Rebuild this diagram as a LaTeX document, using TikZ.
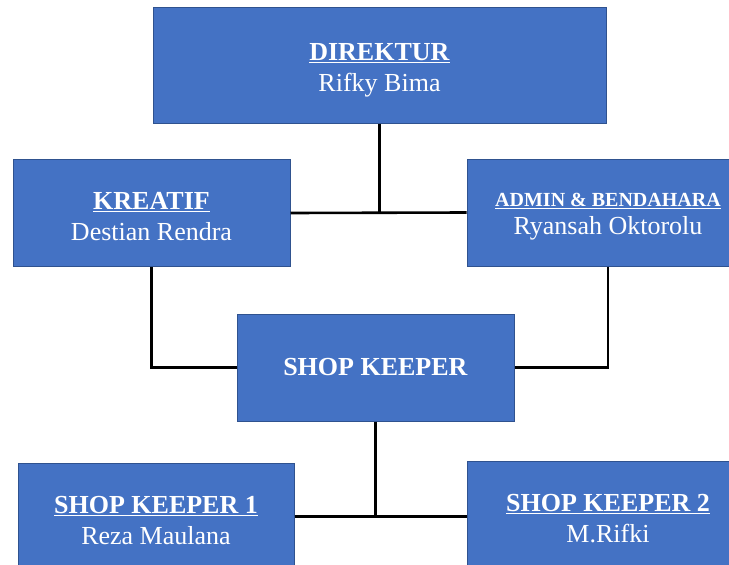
\documentclass[tikz,border=0pt]{standalone}
\usepackage{fontspec}
\setmainfont{Liberation Serif}
\usepackage{tikz}
\usetikzlibrary{calc,positioning}

\definecolor{boxblue}{HTML}{4472C4}
\definecolor{boxedge}{HTML}{2F528F}

\begin{document}
\begin{tikzpicture}[x=1pt, y=-1pt,
    jabatan/.style={draw=boxedge, line width=1pt, fill=boxblue, text=white,
        align=center, inner sep=0pt, minimum height=107pt, minimum width=277pt,
        font=\fontsize{26}{31}\selectfont},
    garis/.style={line width=2.6pt, black}]
                \useasboundingbox (0,0) rectangle (729,565);
                \node[jabatan, minimum width=453pt, minimum height=116pt] (dir) at (379.5,65)
                    {\rule{0pt}{27pt}\underline{\textbf{DIREKTUR}}\\Rifky Bima};
                \node[jabatan] (kre) at (151.5,213)
                    {\rule{0pt}{25pt}\underline{\textbf{KREATIF}}\\Destian Rendra};
                \node[jabatan, minimum width=282pt] (adm) at (608,212.5)
                    {\rule{0pt}{22pt}{\fontsize{20}{27}\selectfont\underline{\textbf{ADMIN \& BENDAHARA}}}\\[-3pt]Ryansah Oktorolu};
                \node[jabatan] (shop) at (375.5,367.5)
                    {\textbf{SHOP KEEPER}};
                \node[jabatan, minimum width=276pt] (sk1) at (156,516.5)
                    {\rule{0pt}{25pt}\underline{\textbf{SHOP KEEPER 1}}\\Reza Maulana};
                \node[jabatan, minimum width=282pt] (sk2) at (608,514.5)
                    {\rule{0pt}{25pt}\underline{\textbf{SHOP KEEPER 2}}\\M.Rifki};
                \draw[garis] (dir.south) -- (dir.south |- kre.east);
                \draw[garis] (kre.east) -- (adm.west);
                \draw[garis] (kre.south) |- (shop.west);
                \draw[garis] (adm.south) |- (shop.east);
                \draw[garis] (shop.south) -- (shop.south |- sk1.east);
                \draw[garis] (sk1.east) -- (sk1.east -| sk2.west);
            \end{tikzpicture}
\end{document}
